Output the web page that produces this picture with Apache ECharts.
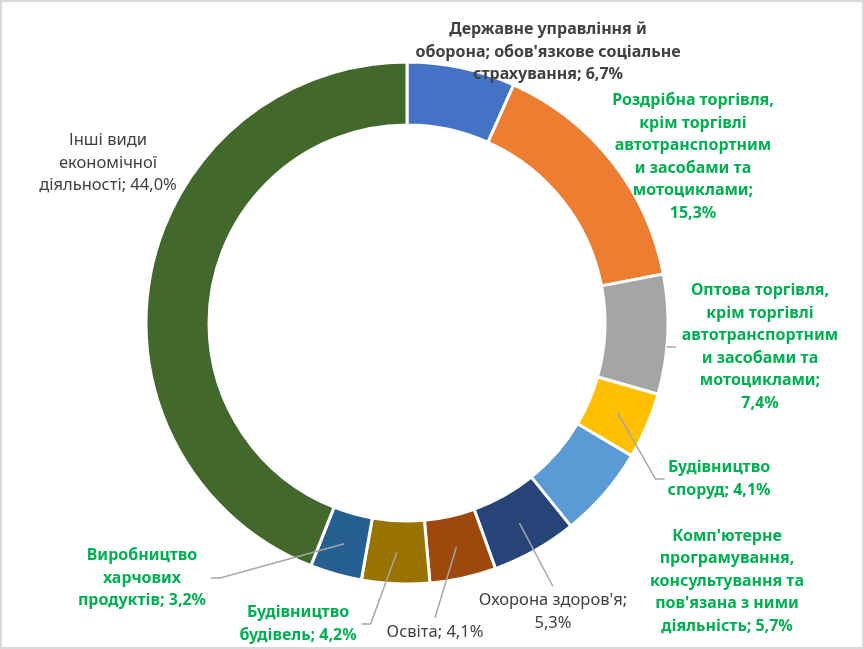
<!DOCTYPE html>
<html>
<head>
<meta charset="utf-8">
<title>Структура</title>
<script src="https://cdn.jsdelivr.net/npm/echarts@6/dist/echarts.min.js"></script>
<style>
    html, body { margin: 0; padding: 0; background: #fff; }
    #wrap { position: relative; width: 864px; height: 649px; }
    #chart { position: absolute; left: 0; top: 0; width: 864px; height: 649px; }
    #frame { position: absolute; left: 0; top: 0; width: 864px; height: 649px;
             box-sizing: border-box; border: 2px solid #D9D9D9; pointer-events: none; }
</style>
</head>
<body>
<div id="wrap">
    <div id="chart"></div>
    <div id="frame"></div>
</div>
<script>
// дані діаграми
const categories = [
    "Державне управління й оборона; обов'язкове соціальне страхування",
    'Роздрібна торгівля, крім торгівлі автотранспортним и засобами та мотоциклами',
    'Оптова торгівля, крім торгівлі автотранспортним и засобами та мотоциклами',
    'Будівництво споруд',
    "Комп'ютерне програмування, консультування та пов'язана з ними діяльність",
    "Охорона здоров'я",
    'Освіта',
    'Будівництво будівель',
    'Виробництво харчових продуктів',
    'Інші види економічної діяльності'
];
const shares = [6.7, 15.3, 7.4, 4.1, 5.7, 5.3, 4.1, 4.2, 3.2, 44.0];

// як підписи розбиті на рядки ({v} — значення)
const labelText = [
    "Державне управління й\nоборона; обов'язкове соціальне\nстрахування; {v}",
    'Роздрібна торгівля,\nкрім торгівлі\nавтотранспортним\nи засобами та\nмотоциклами;\n{v}',
    'Оптова торгівля,\nкрім торгівлі\nавтотранспортним\nи засобами та\nмотоциклами;\n{v}',
    'Будівництво\nспоруд; {v}',
    "Комп'ютерне\nпрограмування,\nконсультування та\nпов'язана з ними\nдіяльність; {v}",
    "Охорона здоров'я;\n{v}",
    'Освіта; {v}',
    'Будівництво\nбудівель; {v}',
    'Виробництво\nхарчових\nпродуктів; {v}',
    'Інші види\nекономічної\nдіяльності; {v}'
];

const colors = ['#4472C4', '#ED7D31', '#A5A5A5', '#FFC000', '#5B9BD5',
                '#264478', '#9E480E', '#997300', '#255E91', '#43682B'];

const GREEN = '#00B050';
const GREY = '#404040';
const boldGreen = { color: GREEN, fontWeight: 'bold', fontSize: 16 };
const plainGrey = { color: GREY, fontWeight: 'normal', fontSize: 16.5 };
const labelStyle = [
    { color: GREY, fontWeight: 'bold', fontSize: 16 },
    boldGreen, boldGreen, boldGreen, boldGreen,
    plainGrey, plainGrey,
    boldGreen, boldGreen,
    plainGrey
];

// розміщення підписів: центр блоку і як до нього підходить лінія
const labelPos = [
    { x: 548, y: 52, line: null },
    { x: 693, y: 157, line: null },
    { x: 760, y: 347, line: 'edge' },
    { x: 719, y: 479, line: 'left' },
    { x: 727, y: 581, line: null },
    { x: 553, y: 612, line: 'top' },
    { x: 435, y: 632, line: 'top' },
    { x: 298, y: 624, line: 'right' },
    { x: 142, y: 578, line: 'right' },
    { x: 108, y: 163, line: null }
];

const cx = 407, cy = 323, r0 = 198, r1 = 261;
const total = shares.reduce((a, b) => a + b, 0);

function midAngle(i) {
    let before = 0;
    for (let k = 0; k < i; k++) before += shares[k];
    return (before + shares[i] / 2) / total * Math.PI * 2;
}

const chart = echarts.init(document.getElementById('chart'));

const option = {
    animation: false,
    backgroundColor: '#fff',
    series: [{
        // кільце
        type: 'pie',
        z: 2,
        center: [cx, cy],
        radius: [r0, r1],
        startAngle: 90,
        clockwise: true,
        label: { show: false },
        labelLine: { show: false },
        itemStyle: {
            borderColor: '#fff',
            borderWidth: 3
        },
        data: categories.map((name, i) => ({
            name: name,
            value: shares[i],
            itemStyle: { color: colors[i] }
        }))
    }, {
        // той самий розподіл, прозорий — лише підписи та лінії поверх кільця
        type: 'pie',
        z: 3,
        silent: true,
        center: [cx, cy],
        radius: [r0, r1],
        startAngle: 90,
        clockwise: true,
        avoidLabelOverlap: false,
        itemStyle: { color: 'rgba(0,0,0,0)', borderWidth: 0 },
        label: {
            show: true,
            position: 'outside',
            fontFamily: 'Noto Sans',
            lineHeight: 22.5,
            formatter: function (p) {
                const v = shares[p.dataIndex].toFixed(1).replace('.', ',') + '%';
                return labelText[p.dataIndex].replace('{v}', v);
            }
        },
        labelLine: {
            show: true,
            lineStyle: { color: '#A6A6A6', width: 1.5 }
        },
        labelLayout: function (params) {
            const i = params.dataIndex;
            const p = labelPos[i];
            const w = params.labelRect.width;
            const h = params.labelRect.height;
            const left = p.x - w / 2, right = p.x + w / 2, top = p.y - h / 2;
            const out = { x: p.x, y: p.y, align: 'center', verticalAlign: 'middle' };
            const a = midAngle(i);
            const rm = (r0 + r1) / 2;
            const sx = cx + rm * Math.sin(a), sy = cy - rm * Math.cos(a);
            if (p.line === 'left') {
                out.labelLinePoints = [[sx, sy], [left - 12, p.y], [left - 3, p.y]];
            } else if (p.line === 'right') {
                out.labelLinePoints = [[sx, sy], [right + 14, p.y], [right + 5, p.y]];
            } else if (p.line === 'top') {
                out.labelLinePoints = [[sx, sy], [p.x, top - 3], [p.x, top - 3]];
            } else if (p.line === 'edge') {
                const ex = cx + Math.sqrt(r1 * r1 - (p.y - cy) * (p.y - cy));
                out.labelLinePoints = [[ex, p.y], [ex, p.y], [left - 6, p.y]];
            }
            return out;
        },
        data: categories.map((name, i) => ({
            name: name,
            value: shares[i],
            label: labelStyle[i],
            labelLine: { show: labelPos[i].line !== null }
        }))
    }]
};

chart.setOption(option);
</script>
</body>
</html>
